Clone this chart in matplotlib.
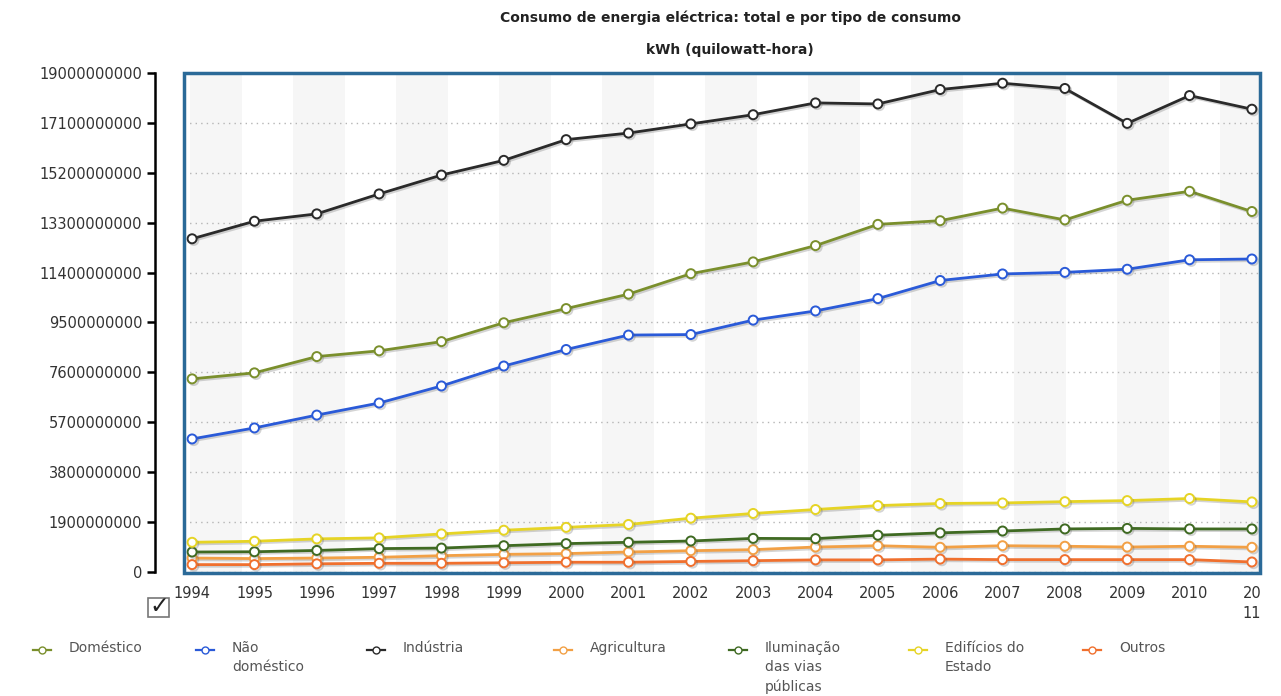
import numpy as np
import matplotlib
matplotlib.use("Agg")
import matplotlib.pyplot as plt
import matplotlib.patheffects as pe
from matplotlib.lines import Line2D
from matplotlib.patches import Rectangle

# --------------------------
# data (kWh)
# --------------------------
years = list(range(1994, 2012))
x_labels = [str(y) for y in years[:-1]] + ["20\n11"]

domestico = [7.35e9, 7.58e9, 8.20e9, 8.42e9, 8.77e9, 9.49e9, 10.03e9, 10.58e9, 11.36e9,
             11.81e9, 12.43e9, 13.24e9, 13.38e9, 13.86e9, 13.41e9, 14.16e9, 14.50e9, 13.73e9]
nao_domestico = [5.06e9, 5.48e9, 5.97e9, 6.43e9, 7.08e9, 7.84e9, 8.47e9, 9.02e9, 9.04e9,
                 9.59e9, 9.94e9, 10.41e9, 11.10e9, 11.35e9, 11.41e9, 11.53e9, 11.89e9, 11.92e9]
industria = [12.69e9, 13.36e9, 13.64e9, 14.40e9, 15.12e9, 15.68e9, 16.47e9, 16.72e9, 17.07e9,
             17.42e9, 17.87e9, 17.83e9, 18.38e9, 18.62e9, 18.42e9, 17.09e9, 18.15e9, 17.63e9]
agricultura = [0.52e9, 0.50e9, 0.52e9, 0.55e9, 0.61e9, 0.66e9, 0.69e9, 0.75e9, 0.80e9,
               0.84e9, 0.94e9, 0.99e9, 0.93e9, 0.99e9, 0.97e9, 0.94e9, 0.97e9, 0.93e9]
iluminacao = [0.75e9, 0.76e9, 0.81e9, 0.88e9, 0.90e9, 0.99e9, 1.07e9, 1.12e9, 1.17e9,
              1.27e9, 1.26e9, 1.39e9, 1.48e9, 1.55e9, 1.63e9, 1.65e9, 1.63e9, 1.63e9]
edificios = [1.12e9, 1.16e9, 1.25e9, 1.29e9, 1.44e9, 1.58e9, 1.69e9, 1.80e9, 2.04e9,
             2.22e9, 2.37e9, 2.52e9, 2.60e9, 2.62e9, 2.67e9, 2.71e9, 2.79e9, 2.66e9]
outros = [0.27e9, 0.27e9, 0.30e9, 0.32e9, 0.32e9, 0.34e9, 0.36e9, 0.36e9, 0.39e9,
          0.42e9, 0.45e9, 0.45e9, 0.48e9, 0.46e9, 0.46e9, 0.46e9, 0.46e9, 0.37e9]

labels = ["Doméstico", "Não\ndoméstico", "Indústria", "Agricultura",
          "Iluminação\ndas vias\npúblicas", "Edifícios do\nEstado", "Outros"]
values = [domestico, nao_domestico, industria, agricultura, iluminacao, edificios, outros]
colors = ["#7a8f2c", "#2a5ad8", "#2a2a2a", "#f2a045", "#3f6a22", "#e6d425", "#f0702e"]

y_ticks = [0, 1.9e9, 3.8e9, 5.7e9, 7.6e9, 9.5e9, 11.4e9, 13.3e9, 15.2e9, 17.1e9, 19e9]
y_tick_labels = ["0", "1900000000", "3800000000", "5700000000", "7600000000", "9500000000",
                 "11400000000", "13300000000", "15200000000", "17100000000", "19000000000"]

# --------------------------
# figure
# --------------------------
W, H = 1281, 696
fig = plt.figure(figsize=(W / 100, H / 100), dpi=100)
ax = fig.add_axes([184 / W, (H - 573) / H, (1260 - 184) / W, (573 - 73) / H])

# vertical light bands in the background
band_w = 0.826
for i, e in enumerate(np.arange(1993.97, 2011.2, band_w)):
    if i % 2 == 0:
        ax.axvspan(e, e + band_w, color="#f6f6f6", lw=0, zorder=0)

ax.yaxis.grid(True, linestyle=(0, (1, 3)), color="#b5b5b5", lw=1, zorder=1)
ax.set_axisbelow(True)

shadow = [pe.SimpleLineShadow(offset=(1.2, -1.2), alpha=0.25, shadow_color="#555555"), pe.Normal()]
lines = []
for lab, vals, col in zip(labels, values, colors):
    ln, = ax.plot(years, vals, color=col, lw=2, marker="o", markersize=6.5,
                  markerfacecolor="white", markeredgecolor=col, markeredgewidth=1.4,
                  zorder=3, path_effects=shadow)
    lines.append(ln)

ax.set_xlim(1993.87, 2011.13)
ax.set_ylim(-0.05e9, 19.01e9)

# box around plotting area
ax.add_patch(Rectangle((0, 0), 1, 1, transform=ax.transAxes, fill=False,
                       edgecolor="#2b6a98", lw=2.5, zorder=5, clip_on=False))
for s in ["top", "right", "bottom"]:
    ax.spines[s].set_visible(False)
ax.spines["left"].set_position(("outward", 21))
ax.spines["left"].set_linewidth(1.8)
ax.spines["left"].set_bounds(0, 19e9)

ax.set_yticks(y_ticks)
ax.set_yticklabels(y_tick_labels)
ax.set_xticks(years)
ax.set_xticklabels(x_labels, va="top", linespacing=1.5)
ax.tick_params(axis="y", length=6, width=1.8, pad=3, labelsize=10.5, labelcolor="#333333")
ax.tick_params(axis="x", length=0, pad=9, labelsize=10.5, labelcolor="#333333")

# titles
fig.text(730 / W, 1 - 18 / H, "Consumo de energia eléctrica: total e por tipo de consumo",
         ha="center", va="center", fontsize=10, fontweight="bold", color="#222222")
fig.text(730 / W, 1 - 50 / H, "kWh (quilowatt-hora)", ha="center", va="center",
         fontsize=10, fontweight="bold", color="#222222")

# checkbox under the axis
fig.add_artist(Rectangle((148 / W, 1 - 617 / H), 21 / W, 19 / H, transform=fig.transFigure,
                         fill=False, edgecolor="#777777", lw=1.2))
fig.text(159 / W, 1 - 606 / H, "✓", ha="center", va="center", fontsize=17, color="#222222")

# legend at the bottom (handles aligned with first text line)
leg_x = [42, 205, 376, 563, 738, 918, 1092]
leg_y = 650
for ln, lab, lx in zip(lines, labels, leg_x):
    fig.add_artist(Line2D([(lx - 9) / W, lx / W, (lx + 9) / W], [1 - leg_y / H] * 3,
                          transform=fig.transFigure, color=ln.get_color(), lw=1.6,
                          marker="o", markevery=[1], markersize=5,
                          markerfacecolor="white", markeredgecolor=ln.get_color()))
    fig.text((lx + 27) / W, 1 - (leg_y - 9) / H, lab, ha="left", va="top",
             fontsize=10, color="#555555", linespacing=1.45)

plt.savefig("out.png", dpi=100)
